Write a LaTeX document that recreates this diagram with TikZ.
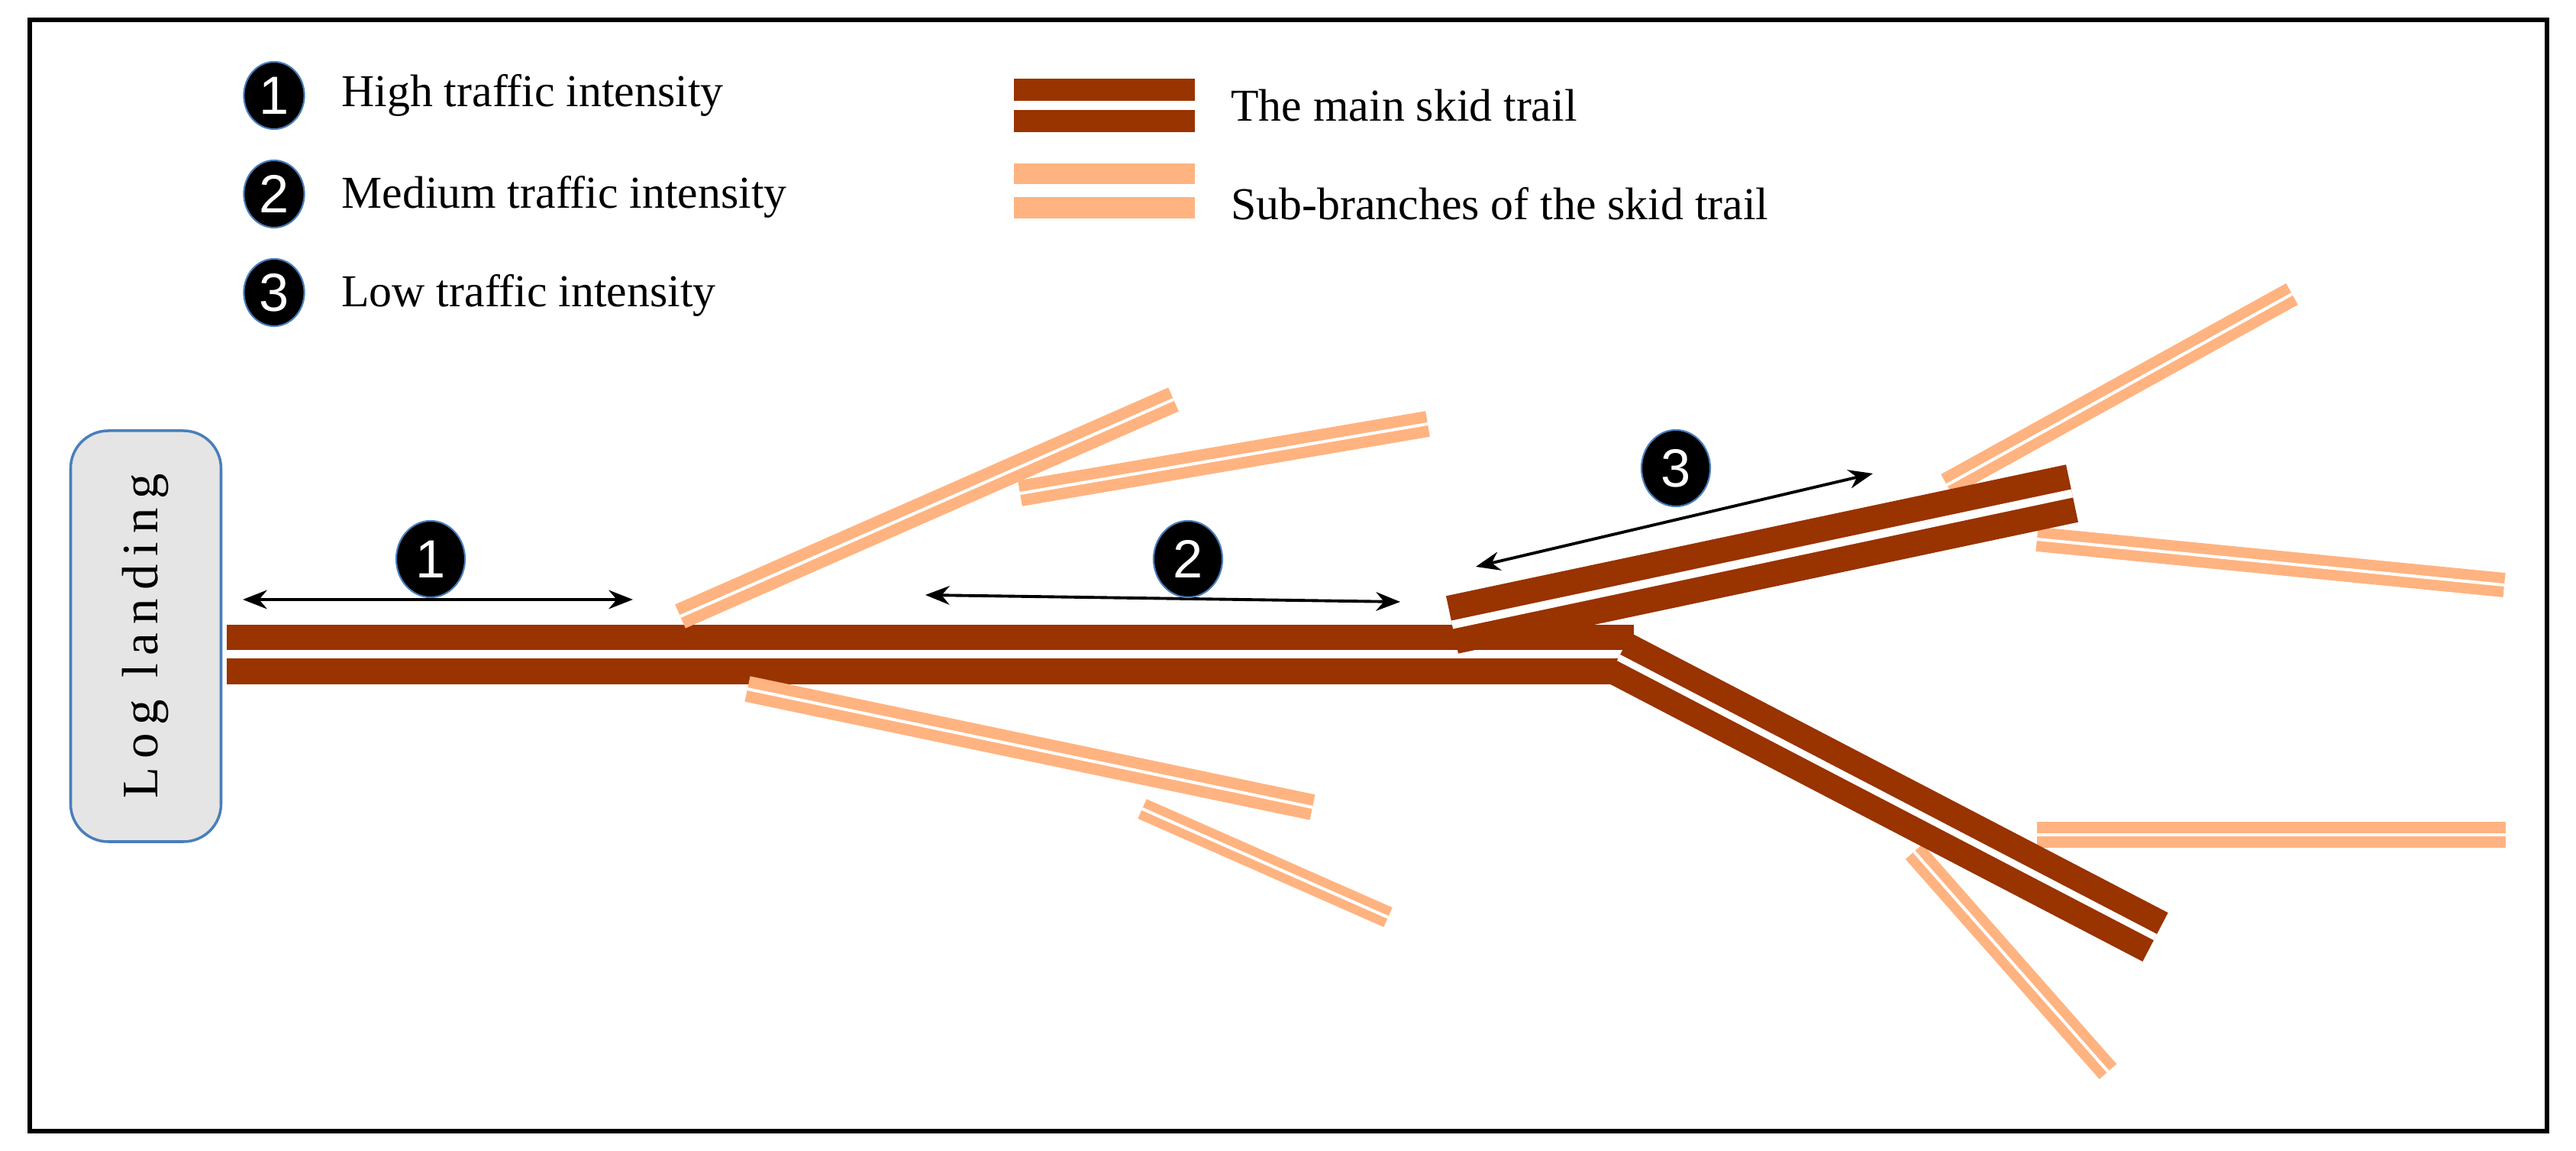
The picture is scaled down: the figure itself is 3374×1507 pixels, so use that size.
\documentclass[tikz,border=0pt]{standalone}
\usepackage{fontspec}
\setmainfont{Liberation Serif}
\newfontfamily\numfont{Liberation Sans}
\usetikzlibrary{arrows.meta}
\definecolor{mainc}{HTML}{993300}
\definecolor{subc}{HTML}{FFB380}
\definecolor{boxb}{HTML}{4A7EBB}
\newcommand\mytrail[5]{% from, to, color, width(px), gap(px)
  \draw[#3,line width=#4*0.2845pt] #1 -- #2;
  \draw[white,line width=#5*0.2845pt] #1 -- #2;}
\begin{document}
\begin{tikzpicture}[x=0.01cm,y=-0.01cm,line cap=butt,
  num/.style={ellipse,fill=black,draw=boxb,line width=0.6pt,inner sep=0pt,minimum width=#1*0.9cm,minimum height=#1cm,text=white,font=\numfont\fontsize{20}{20}\selectfont},
  lab/.style={anchor=west,font=\fontsize{17}{20}\selectfont},
  dim/.style={{Stealth[length=9pt,width=7pt]}-{Stealth[length=9pt,width=7pt]},line width=1.1pt}]
\usetikzlibrary{shapes.geometric}
\useasboundingbox (0,0) rectangle (3374,1507);
\draw[line width=1.8pt] (39,26) rectangle (3336,1481);
% log landing
\node[draw=boxb,fill=black!10,rounded corners=14pt,line width=1pt,minimum width=197*0.01cm,minimum height=538*0.01cm] (ll) at (191,833) {};
\node[rotate=90,font=\fontsize{19}{20}\selectfont] (lltext) at (ll.center) {L\,o\,g\, l\,a\,n\,d\,i\,n\,g};
% main trail
\mytrail{(297,857)}{(2140,857)}{mainc}{77}{11}
% sub-branches
\mytrail{(891,807)}{(1537,523)}{subc}{34}{4}
\mytrail{(1336,646)}{(1870,555)}{subc}{34}{4}
\mytrail{(979,902)}{(1719,1057)}{subc}{34}{4}
\mytrail{(1496,1059)}{(1818,1201)}{subc}{28}{4}
\mytrail{(2550,635)}{(3002,385)}{subc}{32}{4}
\mytrail{(2668,706)}{(3280,766)}{subc}{32}{4}
\mytrail{(2668,1093)}{(3282,1093)}{subc}{34}{4}
\mytrail{(2507,1115)}{(2761,1403)}{subc}{30}{4}
% main branches
\mytrail{(1902,818)}{(2714,646)}{mainc}{77}{11}
\mytrail{(2120,861)}{(2823,1227)}{mainc}{72}{9}
% dimension arrows
\coordinate (a1s) at (318,785); \coordinate (a1e) at (829,785);
\coordinate (a2s) at (1212,779); \coordinate (a2e) at (1834,788);
\coordinate (a3s) at (1933,742); \coordinate (a3e) at (2453,620);
\draw[dim] (a1s) -- (a1e);
\draw[dim] (a2s) -- (a2e);
\draw[dim] (a3s) -- (a3e);
\node[num=1.0] (c1) at (564,732) {1};
\node[num=1.0] (c2) at (1556,732) {2};
\node[num=1.0] (c3) at (2195,613) {3};
% legend
\node[num=0.88] (l1) at (359,125) {1};
\node[num=0.88] (l2) at (359,254) {2};
\node[num=0.88] (l3) at (359,383) {3};
\node[lab] (t1) at (435,125) {High traffic intensity};
\node[lab] (t2) at (435,258) {Medium traffic intensity};
\node[lab] (t3) at (435,387) {Low traffic intensity};
\mytrail{(1328,138)}{(1565,138)}{mainc}{69}{12}
\mytrail{(1328,250)}{(1565,250)}{subc}{71}{17}
\node[lab] (t4) at (1600,138) {The main skid trail};
\node[lab] (t5) at (1600,267) {Sub-branches of the skid trail};
\end{tikzpicture}
\end{document}
